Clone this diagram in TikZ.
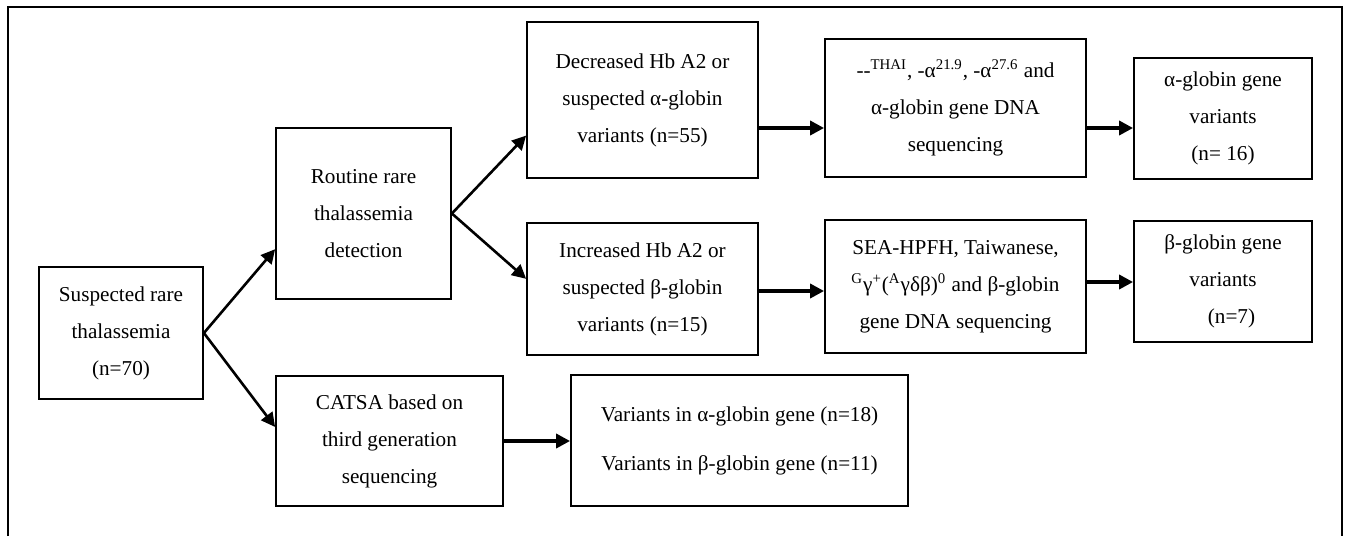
\documentclass[tikz,border=0pt]{standalone}
\usepackage{fontspec}
\setmainfont{Liberation Serif}
\usetikzlibrary{arrows.meta}

\begin{document}
\begin{tikzpicture}[x=0.5pt,y=-0.5pt,
  font=\fontsize{10.6}{18.5}\selectfont,
  box/.style={draw,line width=0.9pt,align=center,inner sep=0pt},
  link/.style={-{Triangle[length=7pt,width=7pt]},line width=1.3pt},
  flow/.style={-{Triangle[length=7pt,width=7pt]},line width=2pt}]
\useasboundingbox (0,0) rectangle (1347,536);
\draw[line width=1.1pt] (8,536) -- (8,7) -- (1342,7) -- (1342,536);
% first column
\node[box,minimum width=82pt,minimum height=66pt] (susp) at (121,333)
  {Suspected rare\\thalassemia\\(n=70)};
% second column
\node[box,minimum width=87.5pt,minimum height=85.5pt] (routine) at (363.5,213.5)
  {Routine rare\\thalassemia\\detection};
\node[box,minimum width=113.5pt,minimum height=65pt] (catsa) at (389.5,441)
  {CATSA based on\\third generation\\sequencing};
% third column
\node[box,minimum width=115.5pt,minimum height=78pt] (decr) at (642.5,100)
  {Decreased Hb A2 or\\suspected α-globin\\variants (n=55)};
\node[box,minimum width=115.5pt,minimum height=66pt] (incr) at (642.5,289)
  {Increased Hb A2 or\\suspected β-globin\\variants (n=15)};
\node[box,minimum width=168.5pt,minimum height=65.5pt] (varj) at (739.5,440.5)
  {Variants in α-globin gene (n=18)\\[6pt]Variants in β-globin gene (n=11)};
% fourth column
\node[box,minimum width=130.5pt,minimum height=69pt] (thai) at (955.5,108)
  {-{}-\textsuperscript{THAI}, -α\textsuperscript{21.9}, -α\textsuperscript{27.6} and\\α-globin gene DNA\\sequencing};
\node[box,minimum width=130.5pt,minimum height=66.5pt] (sea) at (955.5,286.5)
  {SEA-HPFH, Taiwanese,\\\textsuperscript{G}γ\textsuperscript{+}(\textsuperscript{A}γδβ)\textsuperscript{0} and β-globin\\gene DNA sequencing};
% results
\node[box,minimum width=89pt,minimum height=60.5pt] (agene) at (1223,118.5)
  {α-globin gene\\variants\\(n= 16)};
\node[box,minimum width=89pt,minimum height=60.5pt] (bgene) at (1223,281.5)
  {β-globin gene\\variants\\\hspace*{0.8em}(n=7)};
% arrows
\coordinate (rowA) at (0,128);
\coordinate (rowB) at (0,291);
\coordinate (rowC) at (0,282);
\draw[link] (susp.east) -- (routine.202.6);
\draw[link] (susp.east) -- (catsa.173);
\draw[link] (routine.east) -- (decr.197);
\draw[link] (routine.east) -- (incr.175.5);
\draw[flow] (decr.east |- rowA) -- (thai.west |- rowA);
\draw[flow] (thai.east |- rowA) -- (agene.west |- rowA);
\draw[flow] (incr.east |- rowB) -- (sea.west |- rowB);
\draw[flow] (sea.east |- rowC) -- (bgene.west |- rowC);
\draw[flow] (catsa.east) -- (varj.west |- catsa.east);
\end{tikzpicture}
\end{document}
